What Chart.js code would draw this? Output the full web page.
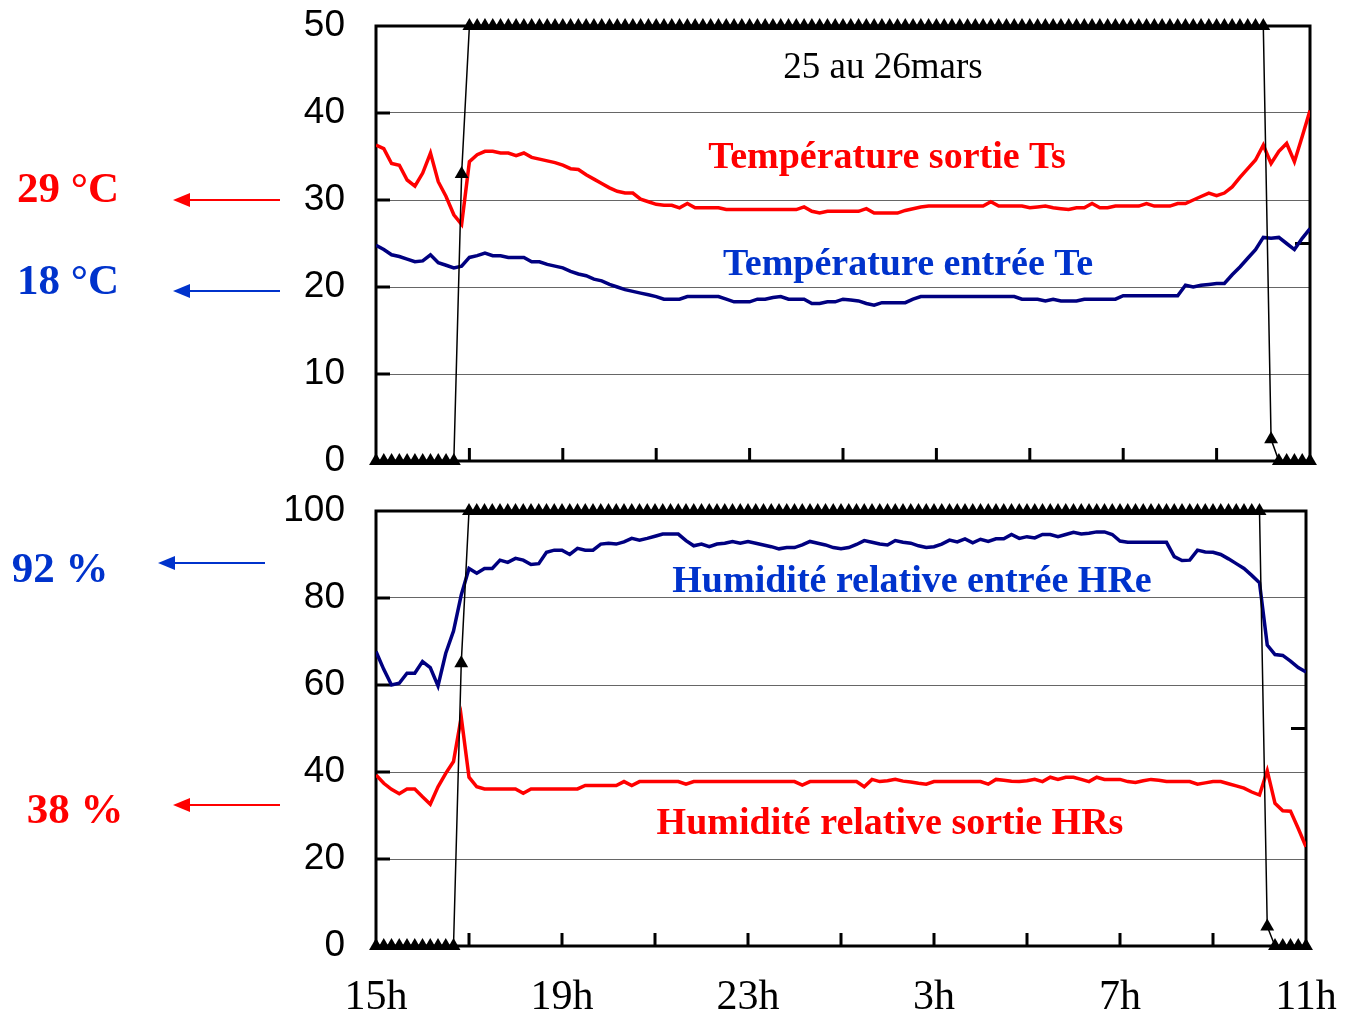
<!DOCTYPE html>
<html>
<head>
<meta charset="utf-8">
<script src="https://cdn.jsdelivr.net/npm/chart.js@4.4.0/dist/chart.umd.min.js"></script>
<style>
body { margin: 0; background: #fff; }
#wrap { position: relative; width: 1350px; height: 1013px; }
canvas { position: absolute; left: 0; }
</style>
</head>
<body>
<div id="wrap">
<canvas id="temp" width="1350" height="490" style="top:0"></canvas>
<canvas id="hum" width="1350" height="523" style="top:490px"></canvas>
</div>
<script>
// mesures toutes les 10 minutes, de 15h a 11h (25 au 26 mars)
var heures = Array.from({length: 121}, function (_, i) { return i / 6; });
var heuresLabels = ['15h', '19h', '23h', '3h', '7h', '11h'];

// Temperature sortie Ts (°C)
var ts = [
  36.3, 35.9, 34.2, 34.0, 32.3, 31.6, 33.1, 35.4, 32.1, 30.4, 28.3, 27.2,
  34.4, 35.2, 35.6, 35.6, 35.4, 35.4, 35.1, 35.4, 34.9, 34.7, 34.5, 34.3,
  34.0, 33.6, 33.5, 32.9, 32.4, 31.9, 31.4, 31.0, 30.8, 30.8, 30.1, 29.8,
  29.5, 29.4, 29.4, 29.1, 29.6, 29.1, 29.1, 29.1, 29.1, 28.9, 28.9, 28.9,
  28.9, 28.9, 28.9, 28.9, 28.9, 28.9, 28.9, 29.2, 28.7, 28.5, 28.7, 28.7,
  28.7, 28.7, 28.7, 29.0, 28.5, 28.5, 28.5, 28.5, 28.8, 29.0, 29.2, 29.3,
  29.3, 29.3, 29.3, 29.3, 29.3, 29.3, 29.3, 29.8, 29.3, 29.3, 29.3, 29.3,
  29.1, 29.2, 29.3, 29.1, 29.0, 28.9, 29.1, 29.1, 29.6, 29.1, 29.1, 29.3,
  29.3, 29.3, 29.3, 29.6, 29.3, 29.3, 29.3, 29.6, 29.6, 30.0, 30.4, 30.8,
  30.5, 30.8, 31.5, 32.6, 33.6, 34.6, 36.3, 34.2, 35.6, 36.5, 34.4, 37.3,
  40.3
];

// Temperature entree Te (°C)
var te = [
  24.8, 24.3, 23.7, 23.5, 23.2, 22.9, 23.0, 23.7, 22.8, 22.5, 22.2, 22.4,
  23.4, 23.6, 23.9, 23.6, 23.6, 23.4, 23.4, 23.4, 22.9, 22.9, 22.6, 22.4,
  22.2, 21.8, 21.5, 21.3, 20.9, 20.7, 20.3, 20.0, 19.7, 19.5, 19.3, 19.1,
  18.9, 18.6, 18.6, 18.6, 18.9, 18.9, 18.9, 18.9, 18.9, 18.6, 18.3, 18.3,
  18.3, 18.6, 18.6, 18.8, 18.9, 18.6, 18.6, 18.6, 18.1, 18.1, 18.3, 18.3,
  18.6, 18.5, 18.4, 18.1, 17.9, 18.2, 18.2, 18.2, 18.2, 18.6, 18.9, 18.9,
  18.9, 18.9, 18.9, 18.9, 18.9, 18.9, 18.9, 18.9, 18.9, 18.9, 18.9, 18.6,
  18.6, 18.6, 18.4, 18.6, 18.4, 18.4, 18.4, 18.6, 18.6, 18.6, 18.6, 18.6,
  19.0, 19.0, 19.0, 19.0, 19.0, 19.0, 19.0, 19.0, 20.2, 20.0, 20.2, 20.3,
  20.4, 20.4, 21.4, 22.3, 23.3, 24.3, 25.7, 25.6, 25.7, 25.0, 24.3, 25.6,
  26.7
];

// Humidite relative entree HRe (%)
var hre = [
  67.7, 63.6, 60.0, 60.4, 62.7, 62.7, 65.4, 64.0, 59.8, 67.3, 72.4, 80.7,
  86.8, 85.7, 86.8, 86.8, 88.7, 88.2, 89.1, 88.7, 87.7, 87.9, 90.5, 91.0,
  91.0, 90.0, 91.4, 91.0, 91.0, 92.4, 92.6, 92.4, 92.9, 93.7, 93.3, 93.7,
  94.2, 94.7, 94.7, 94.7, 93.2, 92.0, 92.4, 91.8, 92.4, 92.6, 93.0, 92.6,
  93.0, 92.6, 92.2, 91.8, 91.3, 91.6, 91.6, 92.2, 93.0, 92.6, 92.2, 91.6,
  91.3, 91.6, 92.3, 93.2, 92.8, 92.4, 92.2, 93.2, 92.8, 92.6, 92.0, 91.6,
  91.8, 92.4, 93.3, 92.9, 93.6, 92.7, 93.5, 93.0, 93.6, 93.6, 94.6, 93.7,
  94.1, 93.8, 94.6, 94.6, 94.1, 94.6, 95.1, 94.7, 94.9, 95.2, 95.2, 94.6,
  93.1, 92.8, 92.8, 92.8, 92.8, 92.8, 92.8, 89.5, 88.6, 88.7, 91.0, 90.6,
  90.5, 90.0, 89.0, 87.9, 86.8, 85.2, 83.5, 69.2, 67.0, 66.8, 65.5, 64.0,
  63.0
];

// Humidite relative sortie HRs (%)
var hrs = [
  39.3, 37.4, 36.0, 35.0, 36.1, 36.1, 34.3, 32.6, 36.6, 39.7, 42.4, 52.6,
  38.8, 36.6, 36.1, 36.1, 36.1, 36.1, 36.1, 35.1, 36.1, 36.1, 36.1, 36.1,
  36.1, 36.1, 36.1, 36.9, 36.9, 36.9, 36.9, 36.9, 37.8, 36.9, 37.8, 37.8,
  37.8, 37.8, 37.8, 37.8, 37.2, 37.8, 37.8, 37.8, 37.8, 37.8, 37.8, 37.8,
  37.8, 37.8, 37.8, 37.8, 37.8, 37.8, 37.8, 37.0, 37.8, 37.8, 37.8, 37.8,
  37.8, 37.8, 37.8, 36.6, 38.3, 37.8, 38.0, 38.3, 37.9, 37.7, 37.4, 37.2,
  37.8, 37.8, 37.8, 37.8, 37.8, 37.8, 37.8, 37.2, 38.3, 38.1, 37.9, 37.8,
  38.0, 38.3, 37.8, 38.8, 38.3, 38.8, 38.8, 38.3, 37.8, 38.8, 38.3, 38.3,
  38.3, 37.8, 37.6, 38.0, 38.3, 38.1, 37.8, 37.8, 37.8, 37.8, 37.2, 37.5,
  37.8, 37.8, 37.3, 36.8, 36.3, 35.4, 34.7, 40.3, 32.8, 31.1, 31.0, 27.0,
  22.8
];

// signal de marche (echelle du graphe temperature)
var marcheT = [
  0, 0, 0, 0, 0, 0, 0, 0, 0, 0, 0, 33,
  50, 50, 50, 50, 50, 50, 50, 50, 50, 50, 50, 50, 50, 50, 50, 50, 50, 50, 50, 50,
  50, 50, 50, 50, 50, 50, 50, 50, 50, 50, 50, 50, 50, 50, 50, 50, 50, 50, 50, 50,
  50, 50, 50, 50, 50, 50, 50, 50, 50, 50, 50, 50, 50, 50, 50, 50, 50, 50, 50, 50,
  50, 50, 50, 50, 50, 50, 50, 50, 50, 50, 50, 50, 50, 50, 50, 50, 50, 50, 50, 50,
  50, 50, 50, 50, 50, 50, 50, 50, 50, 50, 50, 50, 50, 50, 50, 50, 50, 50, 50, 50,
  50, 50, 50,
  2.5, 0, 0, 0, 0, 0
];

// signal de marche (echelle du graphe humidite)
var marcheH = [
  0, 0, 0, 0, 0, 0, 0, 0, 0, 0, 0, 65,
  100, 100, 100, 100, 100, 100, 100, 100, 100, 100, 100, 100, 100, 100, 100, 100, 100, 100, 100, 100,
  100, 100, 100, 100, 100, 100, 100, 100, 100, 100, 100, 100, 100, 100, 100, 100, 100, 100, 100, 100,
  100, 100, 100, 100, 100, 100, 100, 100, 100, 100, 100, 100, 100, 100, 100, 100, 100, 100, 100, 100,
  100, 100, 100, 100, 100, 100, 100, 100, 100, 100, 100, 100, 100, 100, 100, 100, 100, 100, 100, 100,
  100, 100, 100, 100, 100, 100, 100, 100, 100, 100, 100, 100, 100, 100, 100, 100, 100, 100, 100, 100,
  100, 100, 100,
  4.5, 0, 0, 0, 0, 0
];

var ROUGE = '#ff0000';
var MARINE = '#000080';
var BLEU = '#0033cc';
var SERIF = '"Liberation Serif", "Times New Roman", serif';
var SANS = '"Liberation Sans", Arial, sans-serif';

function points(arr) {
  return arr.map(function (v, i) { return {x: heures[i], y: v}; });
}

function serieMarche(arr) {
  return {
    data: points(arr), borderColor: '#000', backgroundColor: '#000', borderWidth: 1.5,
    pointStyle: 'triangle', pointRadius: 8, pointBorderWidth: 0, clip: false
  };
}

function serie(arr, col) {
  return {data: points(arr), borderColor: col, borderWidth: 3.5, pointRadius: 0, tension: 0};
}

// cadre, petites graduations vers l'interieur
var cadre = {
  id: 'cadre',
  beforeDatasetsDraw: function (chart, args, o) {
    var a = chart.chartArea, c = chart.ctx, sx = chart.scales.x, sy = chart.scales.y;
    c.save();
    c.strokeStyle = '#000';
    c.lineWidth = 3;
    c.strokeRect(a.left, a.top, a.right - a.left, a.bottom - a.top);
    o.yMarks.forEach(function (v) {
      var py = sy.getPixelForValue(v);
      c.beginPath(); c.moveTo(a.left, py); c.lineTo(a.left + 14, py); c.stroke();
    });
    [2, 4, 6, 8, 10, 12, 14, 16, 18].forEach(function (h) {
      var px = sx.getPixelForValue(h);
      c.beginPath(); c.moveTo(px, a.bottom); c.lineTo(px, a.bottom - 13); c.stroke();
    });
    var pr = sy.getPixelForValue(o.rightMark);
    c.beginPath(); c.moveTo(a.right, pr); c.lineTo(a.right - 15, pr); c.stroke();
    c.restore();
  }
};

// textes et fleches
var textes = {
  id: 'textes',
  afterDraw: function (chart, args, o) {
    var c = chart.ctx;
    c.save();
    c.textAlign = 'center';
    c.textBaseline = 'middle';
    o.items.forEach(function (t) {
      c.font = t.font;
      c.fillStyle = t.color;
      c.fillText(t.text, t.x, t.y);
    });
    o.arrows.forEach(function (f) {
      c.strokeStyle = f.color; c.fillStyle = f.color; c.lineWidth = 2;
      c.beginPath(); c.moveTo(f.x0, f.y); c.lineTo(f.x1 + 10, f.y); c.stroke();
      c.beginPath(); c.moveTo(f.x1, f.y); c.lineTo(f.x1 + 17, f.y - 7); c.lineTo(f.x1 + 17, f.y + 7); c.closePath(); c.fill();
    });
    c.restore();
  }
};

function options(ymax, ystep, xLabels, padRight, padTop, xHeight, yMarks, rightMark, items, arrows) {
  return {
    responsive: false, animation: false, devicePixelRatio: 1,
    layout: {padding: {left: 0, right: padRight, top: padTop, bottom: 0}},
    plugins: {
      legend: {display: false}, tooltip: {enabled: false},
      cadre: {yMarks: yMarks, rightMark: rightMark},
      textes: {items: items, arrows: arrows}
    },
    scales: {
      x: {
        type: 'linear', min: 0, max: 20,
        grid: {display: false}, border: {display: false},
        afterFit: function (s) { s.height = xHeight; s.paddingLeft = 0; s.paddingRight = 0; },
        ticks: {
          display: xLabels, stepSize: 4, autoSkip: false, maxRotation: 0, padding: 19,
          color: '#000', font: {family: SERIF, size: 42},
          callback: function (v) { return heuresLabels[v / 4]; }
        }
      },
      y: {
        min: 0, max: ymax,
        grid: {color: '#666', lineWidth: 1, drawTicks: false}, border: {display: false},
        afterFit: function (s) { s.width = 376; s.paddingTop = 0; s.paddingBottom = 0; },
        ticks: {stepSize: ystep, padding: 31, color: '#000', font: {family: SANS, size: 37, lineHeight: 1}}
      }
    }
  };
}

new Chart(document.getElementById('temp'), {
  type: 'line',
  data: {datasets: [serieMarche(marcheT), serie(ts, ROUGE), serie(te, MARINE)]},
  options: options(50, 10, false, 40, 26, 29, [10, 20, 30, 40], 25, [
    {text: '25 au 26mars', x: 883, y: 68, color: '#000', font: '37px ' + SERIF},
    {text: 'Température sortie Ts', x: 887, y: 158, color: ROUGE, font: 'bold 38px ' + SERIF},
    {text: 'Température entrée Te', x: 908, y: 265, color: BLEU, font: 'bold 38px ' + SERIF},
    {text: '29 °C', x: 68, y: 191, color: ROUGE, font: 'bold 43px ' + SERIF},
    {text: '18 °C', x: 68, y: 283, color: BLEU, font: 'bold 43px ' + SERIF}
  ], [
    {x0: 280, x1: 173, y: 200, color: ROUGE},
    {x0: 280, x1: 173, y: 291, color: BLEU}
  ]),
  plugins: [cadre, textes]
});

new Chart(document.getElementById('hum'), {
  type: 'line',
  data: {datasets: [serieMarche(marcheH), serie(hre, MARINE), serie(hrs, ROUGE)]},
  options: options(100, 20, true, 44, 21, 67, [20, 40, 60, 80], 50, [
    {text: 'Humidité relative entrée HRe', x: 912, y: 92, color: BLEU, font: 'bold 38px ' + SERIF},
    {text: 'Humidité relative sortie HRs', x: 890, y: 334, color: ROUGE, font: 'bold 38px ' + SERIF},
    {text: '92 %', x: 60, y: 81, color: BLEU, font: 'bold 43px ' + SERIF},
    {text: '38 %', x: 75, y: 322, color: ROUGE, font: 'bold 43px ' + SERIF}
  ], [
    {x0: 265, x1: 158, y: 73, color: BLEU},
    {x0: 280, x1: 173, y: 315, color: ROUGE}
  ]),
  plugins: [cadre, textes]
});
</script>
</body>
</html>
